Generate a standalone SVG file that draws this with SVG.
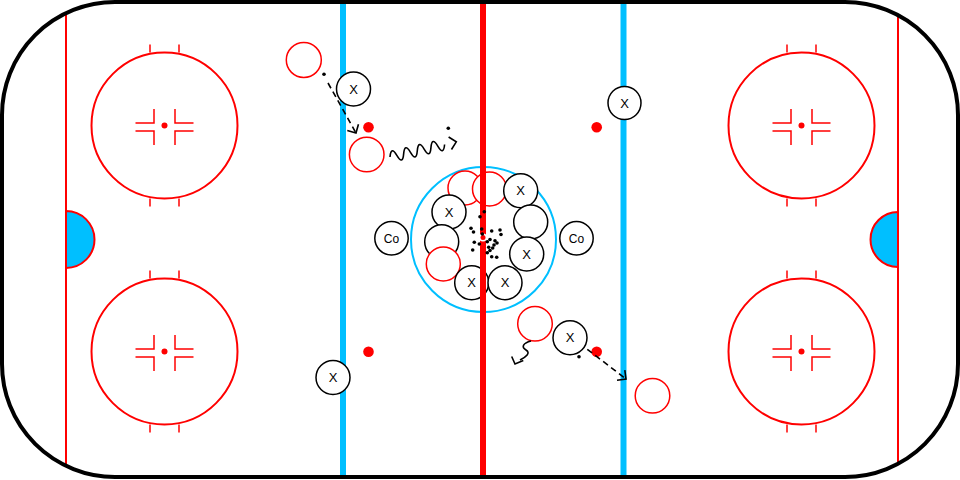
<svg xmlns="http://www.w3.org/2000/svg" xmlns:xlink="http://www.w3.org/1999/xlink" width="960" height="480" viewBox="0 0 960 480">
<style>
.red{stroke:#ff0000;fill:none}
.blue{stroke:#00bfff;fill:none}
.pl circle{fill:#fff;stroke:#000;stroke-width:1.5}
.op circle{fill:#fff;stroke:#ff0000;stroke-width:1.5}
.pl text{font-family:"Liberation Sans",Arial,sans-serif;font-size:13px;text-anchor:middle;fill:#000}
.dash{stroke:#000;stroke-width:1.6;fill:none;stroke-dasharray:6 4}
.solid{stroke:#000;stroke-width:1.6;fill:none}
.dot{fill:#000}
</style>
<defs>
<clipPath id="rinkClip"><rect x="2" y="2" width="956" height="475" rx="113" ry="113"/></clipPath>
<marker id="chev" viewBox="-10 -10 20 20" markerWidth="20" markerHeight="20" refX="0" refY="0" orient="auto" markerUnits="userSpaceOnUse">
<path d="M-6.4,-6.4 L0,0 L-6.4,6.4" fill="none" stroke="#000" stroke-width="1.6" stroke-dasharray="none"/>
</marker>
<g id="faceoff">
<circle cx="0" cy="0" r="73" class="red" stroke-width="2"/>
<path class="red" stroke-width="1.5" d="M-14.5,-81 V-73 M14.5,-81 V-73 M-14.5,73 V81 M14.5,73 V81"/>
<path class="red" stroke-width="1.5" d="M-29,-2.5 H-10.5 V-16.5 M-29,5.5 H-10.5 V19.5 M29,-2.5 H10.5 V-16.5 M29,5.5 H10.5 V19.5"/>
<circle cx="0" cy="0" r="3" fill="#ff0000"/>
</g>
</defs>

<g id="rink">
<rect x="2" y="2" width="956" height="475" rx="113" ry="113" fill="#fff"/>
<g clip-path="url(#rinkClip)">
<line x1="66" y1="0" x2="66" y2="480" class="red" stroke-width="2"/>
<line x1="898" y1="0" x2="898" y2="480" class="red" stroke-width="2"/>
<path d="M66,211 A28.5,28.5 0 0 1 66,268 Z" fill="#00bfff" stroke="#ff0000" stroke-width="2"/>
<path d="M898,212 A27.5,27.5 0 0 0 898,267 Z" fill="#00bfff" stroke="#ff0000" stroke-width="2"/>
<line x1="343" y1="0" x2="343" y2="480" class="blue" stroke-width="6"/>
<line x1="623.5" y1="0" x2="623.5" y2="480" class="blue" stroke-width="6"/>
<use xlink:href="#faceoff" x="164.5" y="125.5"/>
<use xlink:href="#faceoff" x="164.5" y="351.5"/>
<use xlink:href="#faceoff" x="801.5" y="125.5"/>
<use xlink:href="#faceoff" x="801.5" y="351.5"/>
<circle cx="368.5" cy="127.3" r="5.3" fill="#ff0000"/>
<circle cx="596.7" cy="127.3" r="5.3" fill="#ff0000"/>
<circle cx="368.5" cy="351.7" r="5.3" fill="#ff0000"/>
<circle cx="596.7" cy="351.7" r="5.3" fill="#ff0000"/>
<circle cx="483.5" cy="239.5" r="72.5" class="blue" stroke-width="2"/>
</g>
</g>

<g id="nodes">
<g id="o1" class="op"><circle cx="303.8" cy="60" r="17.5"/></g>
<g id="o2" class="op"><circle cx="366.7" cy="154.5" r="17.3"/></g>
<g id="o3" class="op"><circle cx="535" cy="323.7" r="17.3"/></g>
<g id="o4" class="op"><circle cx="652.5" cy="395.8" r="17.3"/></g>
<g id="o5" class="op"><circle cx="465" cy="188" r="17"/></g>
<g id="o6" class="op"><circle cx="489.5" cy="189" r="17"/></g>
<g id="p1" class="pl"><circle cx="353.5" cy="89" r="17"/><text x="353.5" y="93.5">X</text></g>
<g id="p2" class="pl"><circle cx="624.5" cy="103" r="16.5"/><text x="624.5" y="107.5">X</text></g>
<g id="p3" class="pl"><circle cx="333" cy="377.5" r="17"/><text x="333" y="382">X</text></g>
<g id="p4" class="pl"><circle cx="570" cy="337.8" r="17"/><text x="570" y="342.3">X</text></g>
<g id="p5" class="pl"><circle cx="449" cy="212" r="17"/><text x="449" y="216.5">X</text></g>
<g id="p6" class="pl"><circle cx="520.7" cy="190.7" r="17"/><text x="520.7" y="195.2">X</text></g>
<g id="p7" class="pl"><circle cx="530.7" cy="222" r="17"/></g>
<g id="p8" class="pl"><circle cx="441.7" cy="241.7" r="17"/></g>
<g id="o7" class="op"><circle cx="443.3" cy="264" r="17"/></g>
<g id="p9" class="pl"><circle cx="526.7" cy="254" r="17"/><text x="526.7" y="258.5">X</text></g>
<g id="p10" class="pl"><circle cx="471.7" cy="282.7" r="17"/><text x="471.7" y="287.2">X</text></g>
<g id="p11" class="pl"><circle cx="505" cy="282.7" r="17"/><text x="505" y="287.2">X</text></g>
<g id="co1" class="pl"><circle cx="391.5" cy="238.3" r="16.7"/><text x="391.5" y="242.6" style="font-size:12px">Co</text></g>
<g id="co2" class="pl"><circle cx="576.5" cy="238.3" r="16.7"/><text x="576.5" y="242.6" style="font-size:12px">Co</text></g>
</g>

<g id="centerline">
<line x1="483" y1="0" x2="483" y2="480" class="red" stroke-width="6" clip-path="url(#rinkClip)"/>
<circle cx="483" cy="237.5" r="4" fill="#fff"/>
<circle cx="483" cy="237.5" r="2.5" fill="#ff0000"/>
</g>

<g id="connectors">
<circle class="dot" cx="324" cy="74.3" r="1.8"/>
<line class="dash" x1="328" y1="83" x2="356" y2="133" marker-end="url(#chev)"/>
<g transform="translate(390,157) rotate(-12.9)">
<path class="solid" d="M0,0 q3.5,-11 7,0 t7,0 t7,0 t7,0 t7,0 t7,0 t7,0 t7,0"/>
<polyline class="solid" points="61.6,-6.4 68,0 61.6,6.4"/>
</g>
<circle class="dot" cx="448.3" cy="128.3" r="1.8"/>
<path class="solid" d="M531,341 C523,343 521,347 526,350 C531,353 526,357 520,360"/>
<polyline class="solid" points="511.7,356.5 515,364 523.3,360.5"/>
<circle class="dot" cx="579" cy="356.7" r="1.8"/>
<line class="dash" x1="587.3" y1="349.3" x2="626" y2="379" marker-end="url(#chev)"/>
<g id="puckscatter" class="dot">
<circle cx="484.3" cy="211.7" r="1.8"/><circle cx="480" cy="216.7" r="1.8"/>
<circle cx="471" cy="228.3" r="1.8"/><circle cx="473.5" cy="232" r="1.8"/>
<circle cx="481.7" cy="229" r="1.8"/><circle cx="482.3" cy="234" r="1.8"/>
<circle cx="491.7" cy="231" r="1.8"/><circle cx="500" cy="230" r="1.8"/>
<circle cx="501" cy="234.5" r="1.8"/><circle cx="474.3" cy="242.3" r="1.8"/>
<circle cx="479.3" cy="244" r="1.8"/><circle cx="487.3" cy="241.7" r="1.8"/>
<circle cx="490" cy="239.5" r="1.8"/><circle cx="495" cy="240.7" r="1.8"/>
<circle cx="497" cy="243" r="1.8"/><circle cx="494" cy="245" r="1.8"/>
<circle cx="488.7" cy="247.3" r="1.8"/><circle cx="492.7" cy="248" r="1.8"/>
<circle cx="472.7" cy="250" r="1.8"/><circle cx="487.3" cy="252.7" r="1.8"/>
<circle cx="491.7" cy="256.7" r="1.8"/><circle cx="496.7" cy="257.3" r="1.8"/>
<circle cx="490" cy="250.5" r="1.8"/>
</g>
</g>

<rect id="boards" x="2" y="2" width="956" height="475" rx="113" ry="113" fill="none" stroke="#000" stroke-width="4"/>
</svg>
